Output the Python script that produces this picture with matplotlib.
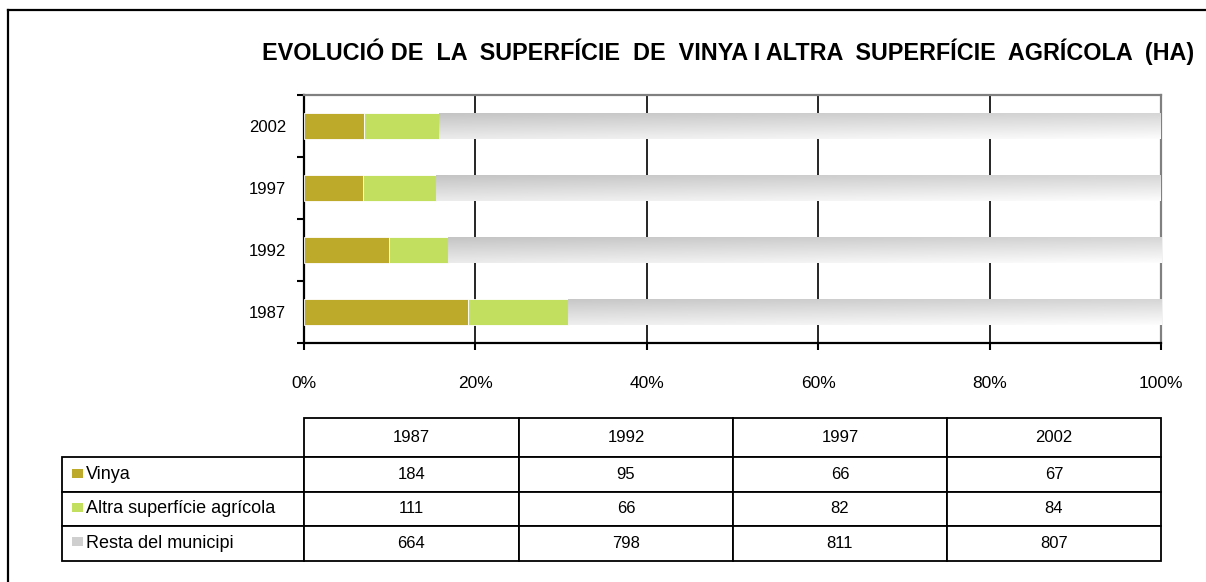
import matplotlib
matplotlib.use("Agg")
import matplotlib.pyplot as plt
import numpy as np
from matplotlib.patches import Rectangle
from matplotlib.lines import Line2D

plt.rcParams['font.family'] = ['Liberation Sans', 'DejaVu Sans']

# data (hectares)
years = ["1987", "1992", "1997", "2002"]
vinya = [184, 95, 66, 67]
altra = [111, 66, 82, 84]
resta = [664, 798, 811, 807]
series_names = ["Vinya", "Altra superfície agrícola", "Resta del municipi"]
title = "EVOLUCIÓ DE  LA  SUPERFÍCIE  DE  VINYA I ALTRA  SUPERFÍCIE  AGRÍCOLA  (HA)"

c_vinya = "#bda92a"
c_altra = "#c2df5f"

W, H = 1206, 582
fig = plt.figure(figsize=(W / 100, H / 100), dpi=100)

# frame around the chart (only top and left are inside the picture)
fig.add_artist(Line2D([8 / W, 8 / W], [0, 1 - 10 / H], transform=fig.transFigure, color="black", lw=1.6))
fig.add_artist(Line2D([8 / W, 1], [1 - 10 / H, 1 - 10 / H], transform=fig.transFigure, color="black", lw=1.6))

fig.text(728 / W, 1 - 52 / H, title, ha="center", va="center", fontsize=16.8, fontweight="bold")

ax = fig.add_axes([304 / W, 1 - 343 / H, 857 / W, 248 / H])

tot = np.array(vinya) + np.array(altra) + np.array(resta)
p_vinya = np.array(vinya) / tot
p_altra = np.array(altra) / tot
p_resta = np.array(resta) / tot
ypos = np.arange(len(years))
bh = 0.42

ax.barh(ypos, p_vinya, height=bh, color=c_vinya, edgecolor="white", lw=0.6, zorder=3)
ax.barh(ypos, p_altra, left=p_vinya, height=bh, color=c_altra, edgecolor="white", lw=0.6, zorder=3)
rbars = ax.barh(ypos, p_resta, left=p_vinya + p_altra, height=bh, color="none", edgecolor="none", zorder=3)

# gray gradient fill for "Resta del municipi"
vv = np.linspace(0, 1, 50)[:, None]
for r in rbars:
    x0, y0, w, h = r.get_x(), r.get_y(), r.get_width(), r.get_height()
    hh = np.linspace(x0, x0 + w, 200)[None, :]
    grad = 0.75 + 0.16 * vv + 0.08 * hh
    im = ax.imshow(grad, cmap="gray", vmin=0, vmax=1, aspect="auto", origin="upper",
                   extent=(x0, x0 + w, y0, y0 + h), zorder=3, interpolation="bilinear")
    im.set_clip_path(r)

ax.set_xlim(0, 1)
ax.set_ylim(-0.5, len(years) - 0.5)

ax.set_xticks(np.arange(0, 1.01, 0.2))
ax.set_xticklabels(["%d%%" % round(v * 100) for v in np.arange(0, 1.01, 0.2)])
ax.set_yticks(ypos)
ax.set_yticklabels(years)
ax.set_yticks(np.arange(-0.5, len(years), 1), minor=True)
ax.tick_params(axis="y", which="major", length=0, pad=13, labelsize=12)
ax.tick_params(axis="y", which="minor", length=5, width=1.5, direction="out")
ax.tick_params(axis="x", length=5, width=1.5, direction="out", pad=19, labelsize=12.5)

ax.grid(axis="x", color="black", lw=1.2)
ax.set_axisbelow(True)
for s in ["left", "bottom"]:
    ax.spines[s].set_linewidth(1.6)
    ax.spines[s].set_color("black")
for s in ["top", "right"]:
    ax.spines[s].set_linewidth(1.6)
    ax.spines[s].set_color("#808080")

# data table below
tax = fig.add_axes([62 / W, 1 - 561 / H, 1099 / W, 143 / H])
tax.axis("off")
cell_text = [[""] + years]
for name, vals in zip(series_names, [vinya, altra, resta]):
    cell_text.append([name] + [str(v) for v in vals])
col_w = [242, 215, 214, 214, 214]
tbl = tax.table(cellText=cell_text, colWidths=[c / sum(col_w) for c in col_w],
                cellLoc="center", bbox=[0, 0, 1, 1])
tbl.auto_set_font_size(False)
tbl.set_fontsize(12)
for (r, c), cell in tbl.get_celld().items():
    cell.set_linewidth(1.3)
    cell.set_edgecolor("black")
    cell.set_height(39 if r == 0 else 34.7)
    if c == 0:
        cell.get_text().set_ha("left")
        if r > 0:
            cell.get_text().set_fontsize(13)
    if r == 0 and c == 0:
        cell.visible_edges = "open"

# legend keys in the row label cells
key_rows = [474, 508, 542]
for yc, col in zip(key_rows, [c_vinya, c_altra, "#cfcfcf"]):
    fig.add_artist(Rectangle((72 / W, 1 - (yc + 4) / H), 11 / W, 9 / H,
                             transform=fig.transFigure, color=col, lw=0))

fig.savefig("out.png", dpi=100)
